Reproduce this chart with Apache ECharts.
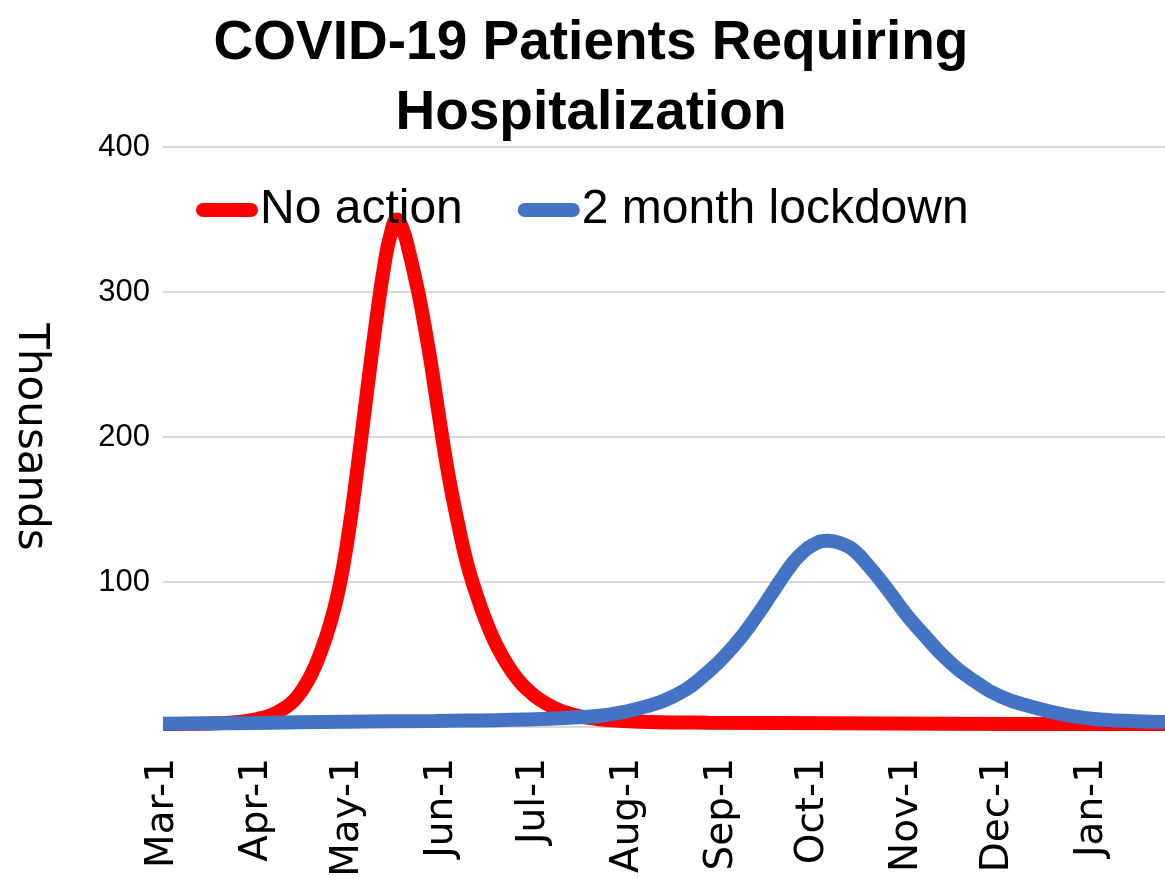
<!DOCTYPE html>
<html>
<head>
<meta charset="utf-8">
<script src="https://cdn.jsdelivr.net/npm/echarts@6/dist/echarts.min.js"></script>
<style>
  html, body { margin: 0; padding: 0; background: #fff; }
  #chart { width: 1165px; height: 878px; }
</style>
</head>
<body>
<div id="chart"></div>
<script>
// x axis: one category per day, labels only on the first of each month
const monthNames = ["Jan", "Feb", "Mar", "Apr", "May", "Jun", "Jul", "Aug", "Sep", "Oct", "Nov", "Dec"];
const monthTicks = ["Mar-1", "Apr-1", "May-1", "Jun-1", "Jul-1", "Aug-1", "Sep-1", "Oct-1", "Nov-1", "Dec-1", "Jan-1"];
const dayCount = 331;

// No action (thousands), read at day offsets from Mar-1
const noActionDay = [0, 10, 20, 26, 31, 34, 37, 40, 43, 46, 49, 52, 55, 58, 61, 64, 67, 70, 73, 75, 77, 79, 81, 83, 85, 88, 91, 94, 97, 100, 103, 106, 109, 112, 115, 118, 121, 124, 128, 132, 137, 143, 150, 160, 180, 220, 260, 300, 330];
const noActionValue = [2, 2.2, 2.8, 3.6, 5.5, 7, 9.5, 13, 18, 26, 37, 52, 71, 96, 132, 178, 228, 277, 320, 340, 350, 343, 328, 310, 290, 254, 213, 174, 142, 114, 93, 75, 60, 48, 38, 30, 24, 19, 14, 10.5, 7.5, 5.5, 4.3, 3.5, 3, 2.6, 2.3, 2, 2];

// 2 month lockdown (thousands)
const lockdownDay = [0, 30, 60, 90, 120, 135, 146, 157, 168, 179, 188, 195, 203, 207, 210, 214, 219, 224, 228, 232, 236, 240, 245, 250, 258, 267, 276, 286, 298, 310, 320, 330];
const lockdownValue = [2.3, 2.8, 3.6, 4.2, 5.2, 6.5, 8.3, 13, 21, 37, 56, 75, 100, 112, 119, 125.5, 128.5, 126, 121, 112, 102, 91, 77, 65, 47, 32, 21, 14, 8, 5, 4, 3.4];

const days = [];
for (let i = 0; i < dayCount; i++) {
  const d = new Date(2020, 2, 1 + i);
  days.push(monthNames[d.getMonth()] + "-" + d.getDate());
}

function pairs(xs, ys) {
  return xs.map(function (x, i) { return [x, ys[i]]; });
}

const capsule = "path://M7 0H55A7 7 0 0 1 55 14H7A7 7 0 0 1 7 0Z";

var myChart = echarts.init(document.getElementById("chart"));
myChart.setOption({
  backgroundColor: "#ffffff",
  animation: false,
  title: {
    text: "COVID-19 Patients Requiring\nHospitalization",
    left: 586,
    textAlign: "center",
    top: 4,
    textStyle: {
      fontFamily: "Liberation Sans",
      fontWeight: "bold",
      fontSize: 55,
      lineHeight: 70,
      color: "#000",
    },
  },
  legend: {
    left: 191,
    top: 180,
    itemWidth: 62,
    itemHeight: 15,
    itemGap: 55,
    icon: capsule,
    textStyle: {
      fontFamily: "Liberation Sans",
      fontSize: 48,
      lineHeight: 50,
      color: "#000",
      padding: [0, 0, 0, -3],
    },
    data: ["No action", "2 month lockdown"],
  },
  grid: {
    left: 163,
    right: 0,
    top: 147,
    bottom: 151,
    containLabel: false,
    outerBoundsMode: "none",
  },
  xAxis: {
    type: "category",
    data: days,
    boundaryGap: false,
    axisLine: { show: true, lineStyle: { color: "#d9d9d9", width: 2 } },
    axisTick: { show: false },
    axisLabel: {
      interval: function (index, value) {
        return monthTicks.indexOf(value) >= 0;
      },
      rotate: 90,
      margin: 31,
      fontFamily: "DejaVu Sans",
      fontSize: 39,
      color: "#000",
    },
    splitLine: { show: false },
  },
  yAxis: {
    type: "value",
    min: 0,
    max: 400,
    interval: 100,
    name: "Thousands",
    nameLocation: "middle",
    nameRotate: -90,
    nameGap: 112,
    nameTextStyle: {
      fontFamily: "DejaVu Sans",
      fontSize: 42,
      color: "#000",
    },
    axisLine: { show: false },
    axisTick: { show: false },
    axisLabel: {
      showMinLabel: false,
      margin: 13,
      fontFamily: "Liberation Sans",
      fontSize: 31,
      color: "#000",
    },
    splitLine: { lineStyle: { color: "#d9d9d9", width: 2 } },
  },
  series: [
    {
      name: "No action",
      type: "line",
      data: pairs(noActionDay, noActionValue),
      smooth: 0.5,
      showSymbol: false,
      color: "#ff0000",
      lineStyle: { width: 14, color: "#ff0000" },
    },
    {
      name: "2 month lockdown",
      type: "line",
      data: pairs(lockdownDay, lockdownValue),
      smooth: 0.5,
      showSymbol: false,
      color: "#4472c4",
      lineStyle: { width: 14, color: "#4472c4" },
    },
  ],
});
</script>
</body>
</html>
